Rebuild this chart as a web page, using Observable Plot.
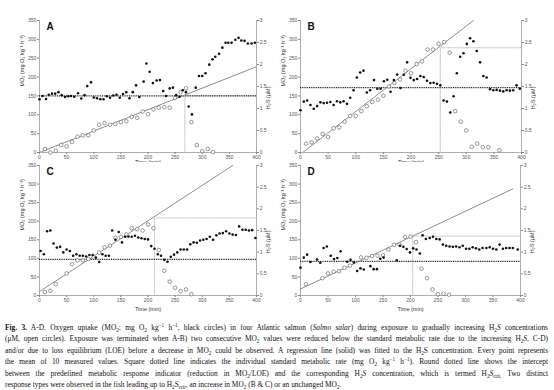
<!DOCTYPE html>
<html><head><meta charset="utf-8">
<script src="https://cdn.jsdelivr.net/npm/d3@7"></script>
<script src="https://cdn.jsdelivr.net/npm/@observablehq/plot@0.6"></script>
<style>
body{margin:0;background:#fff;}
#fig{position:relative;width:554px;height:390px;overflow:hidden;background:#fff;}
.panel{position:absolute;}
#cap{position:absolute;left:5px;top:322px;width:543px;font-family:"Liberation Serif","Times New Roman",serif;font-size:7.4px;line-height:11.4px;color:#111;}
#cap .l{text-align:justify;text-align-last:justify;height:11.4px;white-space:normal;}
#cap .last{text-align:left;text-align-last:left;}
#cap sub,#cap sup{font-size:70%;line-height:0;}
</style></head>
<body><div id="fig">
<div id="pA" class="panel" style="left:0;top:0"></div>
<div id="pB" class="panel" style="left:277px;top:0"></div>
<div id="pC" class="panel" style="left:0;top:162px"></div>
<div id="pD" class="panel" style="left:277px;top:162px"></div>
<div id="cap">
<div class="l"><b>Fig. 3.</b> A-D. Oxygen uptake (MO<sub>2</sub>; mg O<sub>2</sub> kg<sup>−1</sup> h<sup>−1</sup>, black circles) in four Atlantic salmon (<i>Salmo salar</i>) during exposure to gradually increasing H<sub>2</sub><i>S</i> concentrations</div>
<div class="l">(μM, open circles). Exposure was terminated when A-B) two consecutive MO<sub>2</sub> values were reduced below the standard metabolic rate due to the increasing H<sub>2</sub><i>S</i>, C-D)</div>
<div class="l">and/or due to loss equilibrium (LOE) before a decrease in MO<sub>2</sub> could be observed. A regression line (solid) was fitted to the H<sub>2</sub>S concentration. Every point represents</div>
<div class="l">the mean of 10 measured values. Square dotted line indicates the individual standard metabolic rate (mg O<sub>2</sub> kg<sup>−1</sup> h<sup>−1</sup>). Round dotted line shows the intercept</div>
<div class="l">between the predefined metabolic response indicator (reduction in MO<sub>2</sub>/LOE) and the corresponding H<sub>2</sub><i>S</i> concentration, which is termed H<sub>2</sub><i>S</i><sub>crit.</sub> Two distinct</div>
<div class="l last">response types were observed in the fish leading up to H<sub>2</sub>S<sub>crit</sub>, an increase in MO<sub>2</sub> (B &amp; C) or an unchanged MO<sub>2</sub>.</div>
</div>
</div>
<script>
// ---------- Data ----------
const xTicks = [0, 50, 100, 150, 200, 250, 300, 350, 400];
const moTicks = [0, 50, 100, 150, 200, 250, 300, 350];
const h2sTicks = [0, 0.5, 1, 1.5, 2, 2.5, 3];
const moLabel = "MO₂ (mg O₂ kg⁻¹ h⁻¹)";
const h2sLabel = "H₂S (μM)";
const timeLabel = "Time (min)";

// Panel A
const tMO2_A = [0,5.5,12,17,23,29,35,41,47,53,58,64,71,77,83,88,95,100,106,112,118,124,130,136,142,148,154,160,166,172,178,184,192,197,203,209,216,222,228,233,240,246,252,258,264,270,275,281,288,294,300,306,313,319,324,331,337,343,348,354,361,367,372,378,384,391,397];
const mo2_A = [141,150,142,153,156,156,160,152,147,149,150,148,157,143,152,176,186,146,144,141,141,149,145,151,153,145,155,160,144,160,178,147,188,236,214,184,191,192,163,150,170,172,152,148,165,160,122,101,172,203,203,210,233,247,254,262,278,291,291,291,299,304,297,296,289,289,291];
const tH2S_A = [10,20,30,40,50,60,70,80,90,100,110,120,130,140,150,160,170,180,190,200,210,220,230,240,250,260,270,280,290,300,310,320];
const h2s_A = [0.08,0.0,0.04,0.17,0.14,0.24,0.36,0.39,0.39,0.50,0.63,0.67,0.63,0.65,0.69,0.71,0.81,0.79,0.93,0.87,0.98,1.02,1.03,1.02,1.24,1.37,1.46,0.69,0.17,0.03,0.08,0.01];
const regT_A = [0, 400], regH_A = [0, 1.95];
const critT_A = 268, critH_A = 1.29, smr_A = 150;

// Panel B
const tMO2_B = [0,6,12,18,24,30,36,42,48,54,60,66,72,78,84,90,96,102,108,114,120,126,133,139,145,151,157,163,169,175,181,187,193,199,205,211,217,223,229,235,241,247,253,259,265,271,277,283,289,295,301,307,313,319,325,331,337,343,349,355,361,367,373,379,385,391,397];
const mo2_B = [112,135,138,126,116,123,133,131,132,134,126,136,133,136,129,145,165,199,212,217,159,165,192,169,169,189,193,161,192,207,171,206,239,198,192,195,203,200,190,184,185,182,178,138,135,106,149,210,254,263,288,303,295,269,239,203,199,168,165,166,164,162,165,164,165,178,169];
const tH2S_B = [10,20,30,40,50,60,70,80,90,100,110,120,130,140,150,160,170,180,190,200,210,220,230,240,250,260,270,280,290,300,310,320,330,340,360];
const h2s_B = [0.20,0.23,0.32,0.42,0.35,0.55,0.57,0.70,0.83,0.83,0.94,1.05,1.15,1.20,1.29,1.50,1.58,1.66,1.86,1.80,2.01,2.07,2.34,2.34,2.47,2.51,2.27,0.94,0.70,0.50,0.13,0.20,0.12,0.12,0.05];
const regT_B = [4, 313], regH_B = [0, 3];
const critT_B = 253, critH_B = 2.38, smr_B = 172;

// Panel C
const tMO2_C = [2,8,14,20,26,32,38,44,50,56,62,68,74,80,86,92,98,104,110,116,122,128,134,140,146,152,158,164,170,176,182,188,194,200,206,212,218,224,230,236,242,248,254,260,266,272,278,284,290,296,302,308,314,320,326,332,338,344,350,356,362,368,374,380,386,392,398];
const mo2_C = [120,111,173,175,140,129,131,116,124,120,107,111,107,107,105,109,109,102,90,111,107,107,175,150,171,143,158,159,158,161,156,154,152,151,133,126,111,107,96,91,104,110,116,124,124,124,138,143,142,148,150,152,158,150,162,167,168,173,167,164,163,186,177,177,175,176,155];
const tH2S_C = [10,20,30,50,60,70,80,90,100,110,120,130,140,150,160,170,180,190,200,210,220,230,240,250,260,270,280];
const h2s_C = [0.08,0.11,0.26,0.51,0.72,0.81,0.81,0.84,0.88,0.99,1.11,1.15,1.33,1.35,1.41,1.55,1.53,1.50,1.64,1.55,1.05,0.57,0.32,0.18,0.10,0.14,0.03];
const regT_C = [0, 356], regH_C = [0.09, 3];
const critT_C = 212, critH_C = 1.79, smr_C = 97;

// Panel D
const tMO2_D = [0,6,12,18,30,36,42,48,55,61,67,73,85,91,97,103,109,115,127,133,139,145,151,175,181,187,193,199,205,211,217,222,228,235,241,247,253,259,265,271,277,283,289,295,301,307,313,319,325,331,338,344,350,356,362,368,374,380,386,395];
const mo2_D = [75,102,110,90,97,88,128,132,107,98,101,119,91,96,89,66,73,70,79,71,71,99,102,95,134,131,125,116,127,124,113,162,152,155,158,152,151,137,134,132,131,132,130,134,126,126,130,127,124,128,128,130,126,124,137,126,128,128,128,124];
const tH2S_D = [10,40,50,60,70,80,90,110,120,130,140,150,160,170,180,190,200,210,220,230,240,250,260,270];
const h2s_D = [0.26,0.40,0.51,0.55,0.56,0.64,0.69,0.88,0.87,0.91,0.92,0.93,1.06,1.17,1.18,1.35,1.36,1.23,0.62,0.40,0.14,0.03,0.04,0.02];
const regT_D = [0, 386], regH_D = [0.15, 2.46];
const critT_D = 204, critH_D = 1.37, smr_D = 92;

// ---------- Drawing ----------
const MO_MAX = 350, H_MAX = 3, K = MO_MAX / H_MAX;
const fontFam = "Liberation Sans, Arial, sans-serif";

function panel(opts) {
  const {el, letter, tM, mo, tH, hs, regT, regH, critT, critH, smr, width, height, mL, mR, mT, mB, timeDy, bg} = opts;
  const moData = tM.map((t, i) => ({t, v: mo[i]}));
  const hData = tH.map((t, i) => ({t, v: hs[i] * K}));
  const reg = regT.map((t, i) => ({t, v: regH[i] * K}));
  const crit = [{t: critT, v: 0}, {t: critT, v: critH * K}, {t: 400, v: critH * K}];
  const axisStyle = {fontSize: 5, tickSize: 2, tickPadding: 1.2, color: "#555", stroke: "#888", label: null};
  const chart = Plot.plot({
    width, height, marginLeft: mL, marginRight: mR, marginTop: mT, marginBottom: mB,
    style: {background: bg, fontFamily: fontFam, overflow: "visible"},
    x: {domain: [0, 400], label: null},
    y: {domain: [0, MO_MAX], label: null},
    marks: [
      Plot.ruleX([0, 400], {stroke: "#999", strokeWidth: 0.8}),
      Plot.ruleY([0], {stroke: "#999", strokeWidth: 0.8}),
      Plot.line(crit, {x: "t", y: "v", stroke: "#bdbdbd", strokeWidth: 0.9, strokeDasharray: "1.2,1.2"}),
      Plot.ruleY([smr], {stroke: "#222", strokeWidth: 1.3, strokeDasharray: "1,0.8"}),
      Plot.line(reg, {x: "t", y: "v", stroke: "#808080", strokeWidth: 0.9, clip: true}),
      Plot.axisY(moTicks, {anchor: "left", ...axisStyle}),
      Plot.axisY(h2sTicks.map(v => v * K), {anchor: "right", ...axisStyle, tickFormat: d => d3.format("~g")(+(d / K).toFixed(2))}),
      Plot.axisX(xTicks, {anchor: "bottom", ...axisStyle}),
      Plot.text([moLabel], {frameAnchor: "left", rotate: -90, dx: -17, fontSize: 5.5, fill: "#333"}),
      Plot.text([h2sLabel], {frameAnchor: "right", rotate: -90, dx: 12, fontSize: 5.5, fill: "#333"}),
      Plot.text([timeLabel], {frameAnchor: "bottom", lineAnchor: "middle", dy: timeDy, fontSize: 5.5, fill: "#333"}),
      Plot.text([letter], {frameAnchor: "top-left", lineAnchor: "top", textAnchor: "start", dx: 7, dy: 2, fontSize: 10, fontWeight: "bold", fill: "#111"}),
      Plot.dot(hData, {x: "t", y: "v", r: 1.8, stroke: "#555", strokeWidth: 0.6, fill: "white"}),
      Plot.dot(moData, {x: "t", y: "v", r: 1.3, fill: "#111", stroke: "none"})
    ]
  });
  document.getElementById(el).appendChild(chart);
}

panel({el: "pA", letter: "A", tM: tMO2_A, mo: mo2_A, tH: tH2S_A, hs: h2s_A, regT: regT_A, regH: regH_A, critT: critT_A, critH: critH_A, smr: smr_A,
  width: 277, height: 170, mL: 39, mR: 21, mT: 20, mB: 18, timeDy: 9.5, bg: "transparent"});
panel({el: "pB", letter: "B", tM: tMO2_B, mo: mo2_B, tH: tH2S_B, hs: h2s_B, regT: regT_B, regH: regH_B, critT: critT_B, critH: critH_B, smr: smr_B,
  width: 277, height: 170, mL: 23, mR: 33, mT: 20, mB: 18, timeDy: 9.5, bg: "transparent"});
panel({el: "pC", letter: "C", tM: tMO2_C, mo: mo2_C, tH: tH2S_C, hs: h2s_C, regT: regT_C, regH: regH_C, critT: critT_C, critH: critH_C, smr: smr_C,
  width: 277, height: 153, mL: 39, mR: 21, mT: 3, mB: 20, timeDy: 14, bg: "white"});
panel({el: "pD", letter: "D", tM: tMO2_D, mo: mo2_D, tH: tH2S_D, hs: h2s_D, regT: regT_D, regH: regH_D, critT: critT_D, critH: critH_D, smr: smr_D,
  width: 277, height: 153, mL: 23, mR: 34, mT: 3, mB: 20, timeDy: 14, bg: "white"});
</script>
</body></html>
